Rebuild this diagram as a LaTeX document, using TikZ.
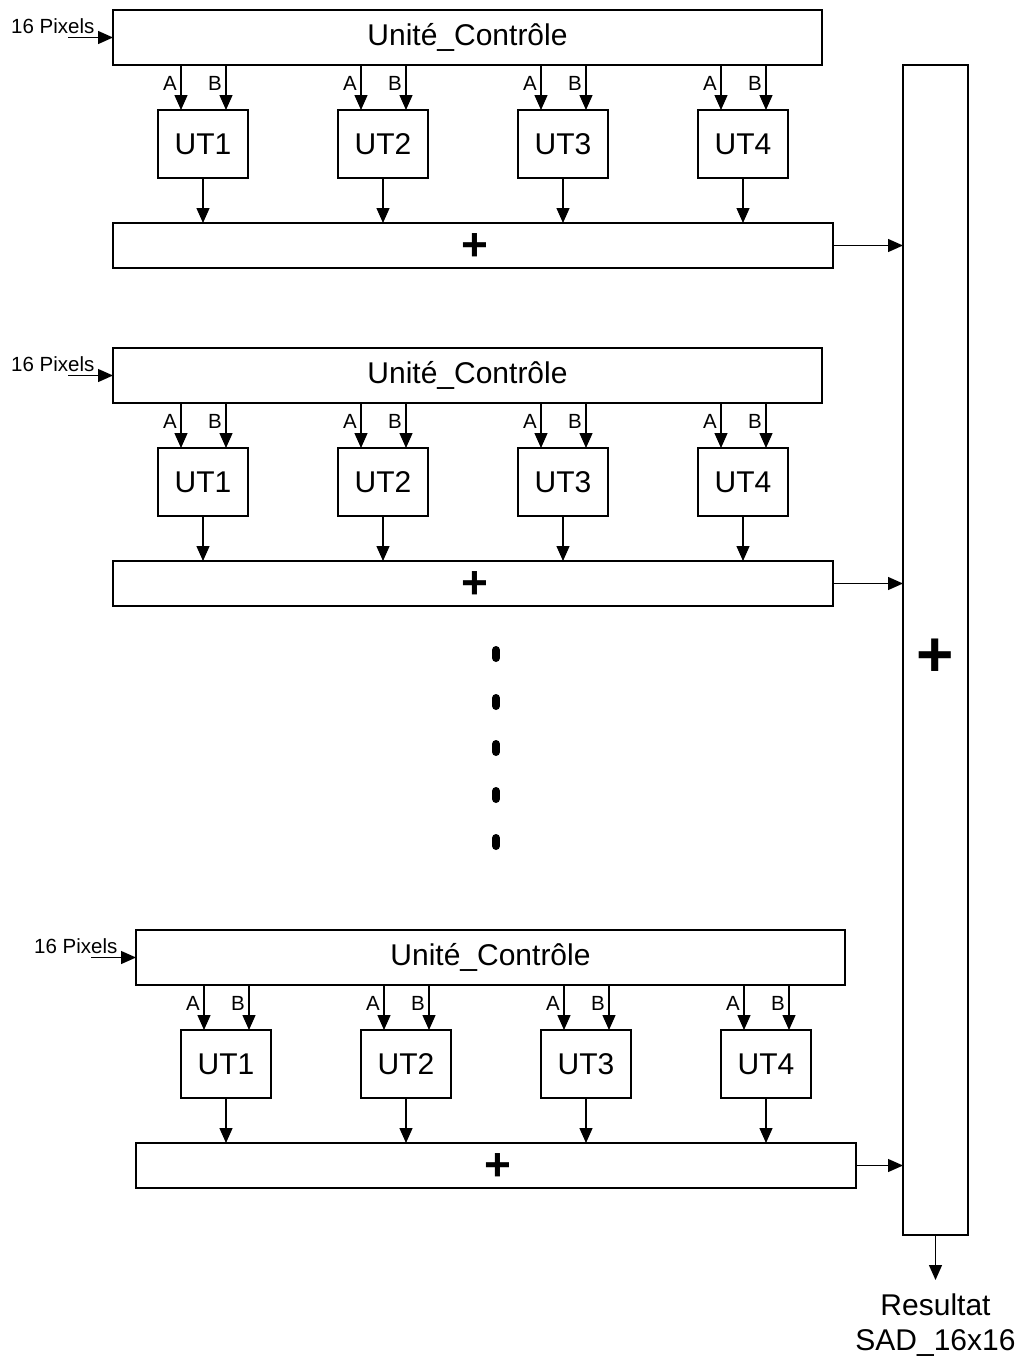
\documentclass[tikz,border=0pt]{standalone}
\usepackage{fontspec}
\setmainfont{Liberation Sans}
\usetikzlibrary{arrows.meta,calc}
\begin{document}
\begin{tikzpicture}[x=1pt,y=-1pt,
  lw/.style={line width=1.3pt},
  box/.style={draw,lw,inner sep=0pt,outer sep=0pt,font=\fontsize{30}{34}\selectfont},
  arr/.style={lw,-{Triangle[length=15pt,width=13pt]}},
  lbl/.style={inner sep=0pt,font=\fontsize{20.5}{24}\selectfont},
  plusfont/.style={inner sep=0pt,font=\fontsize{46}{50}\bfseries\selectfont},
  dotmark/.style={line width=8pt,line cap=round}]
\useasboundingbox (0,0) rectangle (1016,1358);
% big adder
\node[box,minimum width=65pt,minimum height=1170pt] (big) at (935.5,650) {};
\node[inner sep=0pt,font=\fontsize{64}{70}\bfseries\selectfont] (bigplus) at (935.5,658) {+};
\coordinate (res) at (935.5,1280);
\draw[arr] (big.south) -- (res);
\node[inner sep=0pt,align=center,font=\fontsize{30}{35}\selectfont,anchor=north] (restxt) at (935.5,1294) {Resultat\\SAD\_16x16};
% blocks
\foreach \b/\dx/\dy in {1/0/0,2/0/338,3/23/920}{
  \node[box,minimum width=709pt,minimum height=55pt] (uc\b) at (467.5+\dx,37.5+\dy) {Unité\_Contrôle};
  \node[lbl,anchor=base west] (px\b) at (11+\dx,33+\dy) {16 Pixels};
  \coordinate (in\b) at (68+\dx,37.5+\dy);
  \draw[arr] (in\b) -- (uc\b.west);
  \node[box,minimum width=720pt,minimum height=45pt] (pl\b) at (473+\dx,245.5+\dy) {};
  \node[plusfont] (pt\b) at (475+\dx,247+\dy) {+};
  \draw[arr] (pl\b.east) -- (pl\b.east -| big.west);
  \foreach \i in {1,2,3,4}{
    \node[box,minimum width=90pt,minimum height=68pt] (ut\b\i) at (203+180*\i-180+\dx,144+\dy) {UT\i};
    \coordinate (a\b\i) at ([xshift=23pt]ut\b\i.north west);
    \coordinate (b\b\i) at ([xshift=68pt]ut\b\i.north west);
    \draw[arr] (uc\b.south -| a\b\i) -- (a\b\i);
    \draw[arr] (uc\b.south -| b\b\i) -- (b\b\i);
    \node[lbl] (la\b\i) at ([xshift=-11pt,yshift=-18pt]uc\b.south -| a\b\i) {A};
    \node[lbl] (lb\b\i) at ([xshift=-11pt,yshift=-18pt]uc\b.south -| b\b\i) {B};
    \draw[arr] (ut\b\i.south) -- (ut\b\i.south |- pl\b.north);
  }
}
% dots
\foreach \y [count=\k] in {654,702,748,795,842}{
  \coordinate (d\k) at (496,\y);
  \draw[dotmark] ([yshift=4pt]d\k) -- ([yshift=-4pt]d\k);
}
\end{tikzpicture}
\end{document}
